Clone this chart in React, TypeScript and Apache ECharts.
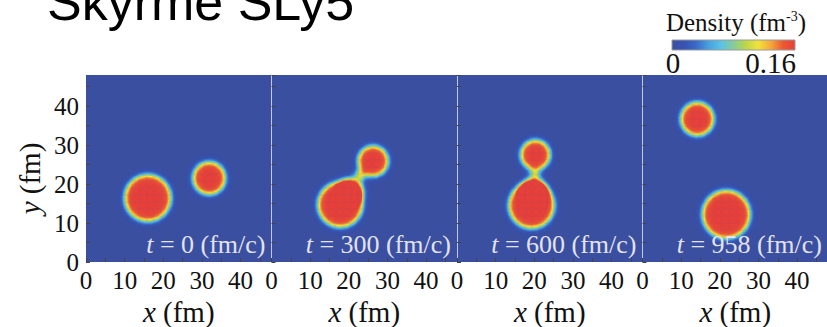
import React, { useEffect, useRef } from "react";
import * as echarts from "echarts";

// ---- data ----
const TIME_LABELS = ["0", "300", "600", "958"]; // fm/c
// nuclear fragments per snapshot: [x (fm), y (fm), radius R (fm), relative peak density]
const SNAP_T0 = [
  [16.0, 16.5, 6.0, 1],
  [31.9, 21.6, 4.2, 1],
];
const SNAP_T300 = [
  [17.8, 14.8, 5.8, 1],
  [20.4, 18.2, 3.3, 1],
  [22.9, 22.3, 1.2, 0.6],
  [26.3, 26.0, 3.9, 1],
];
const SNAP_T600 = [
  [19.3, 14.6, 5.9, 1],
  [19.9, 18.0, 3.4, 1],
  [20.2, 22.6, 1.1, 0.55],
  [20.3, 27.6, 3.8, 1],
];
const SNAP_T958 = [
  [14.2, 36.8, 4.3, 1],
  [21.7, 12.3, 6.2, 1],
];
const SNAPSHOTS = [SNAP_T0, SNAP_T300, SNAP_T600, SNAP_T958];
const DENSITY_MAX = 0.16; // fm^-3
const DIFFUSENESS = 0.5; // fm
const AXIS_MIN = 0;
const AXIS_MAX = 48;
const TICK_STEP = 5;
const LABEL_STEP = 10;
const CELL = 0.3; // fm
const COLORS = [
  "#3a4fa0",
  "#3853b2",
  "#3b6cc8",
  "#48a3df",
  "#5cc2e6",
  "#86cc9a",
  "#bcd64a",
  "#f2e23a",
  "#f5a93c",
  "#ec5a34",
  "#e8403a",
];

// ---- layout ----
const GRID_LEFT = [86, 271.5, 457, 642.5];
const GRID_TOP = 75;
const GRID_W = 185.5;
const GRID_H = 187;
const SERIF = "Liberation Serif";

function densityField(blobs: number[][]) {
  const out: number[][] = [];
  const n = Math.round((AXIS_MAX - AXIS_MIN) / CELL);
  for (let i = 0; i < n; i++) {
    for (let j = 0; j < n; j++) {
      const x = AXIS_MIN + (i + 0.5) * CELL;
      const y = AXIS_MIN + (j + 0.5) * CELL;
      let rho = 0;
      for (const [cx, cy, R, p] of blobs) {
        const r = Math.hypot(x - cx, y - cy);
        rho += (p * DENSITY_MAX) / (1 + Math.exp((r - R) / DIFFUSENESS));
      }
      rho = Math.min(rho, DENSITY_MAX);
      if (rho > 0.003) out.push([x, y, +rho.toFixed(4)]);
    }
  }
  return out;
}

export default function App() {
  const ref = useRef<HTMLDivElement>(null);
  useEffect(() => {
    if (!ref.current) return;
    const chart = echarts.init(ref.current, null, { renderer: "svg" });

    const grids = GRID_LEFT.map((left) => ({
      left,
      top: GRID_TOP,
      width: GRID_W,
      height: GRID_H,
      show: true,
      backgroundColor: COLORS[0],
      borderWidth: 0,
      containLabel: false,
      outerBoundsMode: "none",
    }));

    const labelFmt = (v: number) => (v % LABEL_STEP === 0 ? String(v) : "");

    const nameStyle = {
      fontFamily: SERIF,
      fontSize: 29,
      color: "#111",
      rich: { i: { fontFamily: SERIF, fontSize: 29, fontStyle: "italic", color: "#111" } },
    };

    const xAxes = GRID_LEFT.map((_, k) => ({
      type: "value",
      gridIndex: k,
      min: AXIS_MIN,
      max: AXIS_MAX,
      interval: TICK_STEP,
      axisLine: { show: false },
      axisTick: { show: true, inside: true, length: 4, lineStyle: { color: "#444", width: 1 } },
      splitLine: { show: false },
      axisLabel: {
        formatter: labelFmt,
        showMaxLabel: false,
        fontFamily: SERIF,
        fontSize: 25,
        color: "#111",
        margin: 6,
      },
      name: "{i|x} (fm)",
      nameLocation: "middle",
      nameGap: 29,
      nameTextStyle: nameStyle,
    }));

    const yAxes = GRID_LEFT.map((_, k) => ({
      type: "value",
      gridIndex: k,
      min: AXIS_MIN,
      max: AXIS_MAX,
      interval: TICK_STEP,
      axisLine: { show: k > 0, lineStyle: { color: "#c4c8e4", width: 1 } },
      axisTick: { show: true, inside: true, length: 4, lineStyle: { color: "#444", width: 1 } },
      splitLine: { show: false },
      axisLabel: {
        show: k === 0,
        formatter: labelFmt,
        showMaxLabel: false,
        fontFamily: SERIF,
        fontSize: 25,
        color: "#111",
        margin: 7,
      },
      name: k === 0 ? "{i|y} (fm)" : "",
      nameLocation: "middle",
      nameGap: 42,
      nameTextStyle: { ...nameStyle, padding: [0, 20, 0, 0] },
    }));

    const series = SNAPSHOTS.map((blobs, k) => ({
      type: "custom",
      xAxisIndex: k,
      yAxisIndex: k,
      silent: true,
      encode: { x: 0, y: 1 },
      data: densityField(blobs),
      renderItem: (params: any, api: any) => {
        const x = api.value(0);
        const y = api.value(1);
        const a = api.coord([x - CELL / 2, y + CELL / 2]);
        const b = api.coord([x + CELL / 2, y - CELL / 2]);
        return {
          type: "rect",
          shape: { x: a[0], y: a[1], width: b[0] - a[0] + 0.4, height: b[1] - a[1] + 0.4 },
          style: { fill: api.visual("color") },
        };
      },
    }));

    const annotations = TIME_LABELS.map((t, k) => ({
      type: "text",
      x: GRID_LEFT[k] + GRID_W - 6,
      y: 244,
      z: 10,
      silent: true,
      style: {
        text: `{i|t} = ${t} (fm/c)`,
        align: "right",
        verticalAlign: "middle",
        fontFamily: SERIF,
        fontSize: 26,
        fill: "#e2e3f0",
        rich: { i: { fontFamily: SERIF, fontSize: 26, fontStyle: "italic", fill: "#e2e3f0", color: "#e2e3f0" } },
      },
    }));

    const gradStops = COLORS.map((c, i) => ({ offset: i / (COLORS.length - 1), color: c }));

    chart.setOption({
      animation: false,
      textStyle: { fontFamily: SERIF },
      grid: grids,
      xAxis: xAxes,
      yAxis: yAxes,
      visualMap: {
        type: "continuous",
        show: false,
        min: 0,
        max: DENSITY_MAX,
        dimension: 2,
        seriesIndex: [0, 1, 2, 3],
        inRange: { color: COLORS },
      },
      series,
      graphic: [
        {
          type: "text",
          x: 47,
          y: 2,
          silent: true,
          style: {
            text: "Skyrme SLy5",
            fontFamily: "Liberation Sans",
            fontSize: 52,
            fill: "#000",
            align: "left",
            verticalAlign: "middle",
          },
        },
        {
          type: "text",
          x: 736,
          y: 22,
          silent: true,
          style: {
            text: "Density (fm{s|-3})",
            fontFamily: SERIF,
            fontSize: 25,
            fill: "#111",
            align: "center",
            verticalAlign: "middle",
            rich: { s: { fontFamily: SERIF, fontSize: 14, verticalAlign: "top", padding: [0, 0, 10, 0], fill: "#111" } },
          },
        },
        {
          type: "rect",
          silent: true,
          shape: { x: 672, y: 40, width: 123, height: 10 },
          style: {
            fill: new echarts.graphic.LinearGradient(0, 0, 1, 0, gradStops),
            stroke: "#9a9a9a",
            lineWidth: 1,
          },
        },
        {
          type: "text",
          x: 673,
          y: 63,
          silent: true,
          style: { text: "0", fontFamily: SERIF, fontSize: 29, fill: "#111", align: "center", verticalAlign: "middle" },
        },
        {
          type: "text",
          x: 796,
          y: 63,
          silent: true,
          style: { text: "0.16", fontFamily: SERIF, fontSize: 29, fill: "#111", align: "right", verticalAlign: "middle" },
        },
        ...annotations,
      ],
    });
    return () => chart.dispose();
  }, []);
  return <div ref={ref} style={{ width: 827, height: 327, position: "absolute", left: 0, top: 0 }} />;
}
